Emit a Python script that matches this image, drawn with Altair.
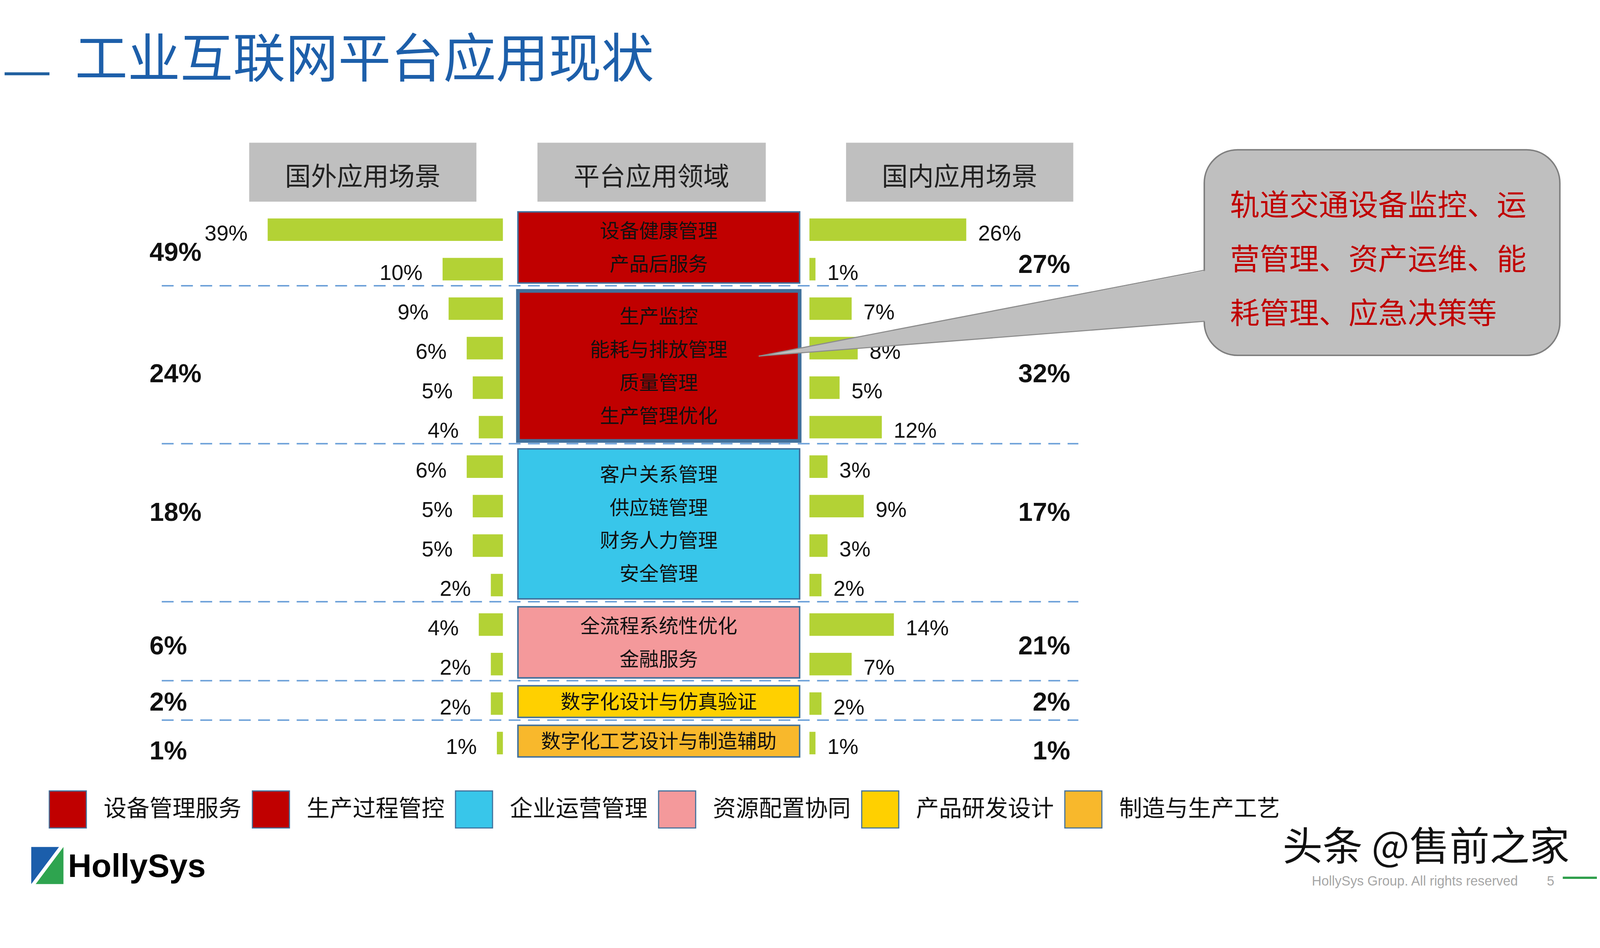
import altair as alt
import pandas as pd

# ------------------------------------------------------------------ data
title_text = "工业互联网平台应用现状"
headers = ["国外应用场景", "平台应用领域", "国内应用场景"]
foreign = [39, 10, 9, 6, 5, 4, 6, 5, 5, 2, 4, 2, 2, 1]
domestic = [26, 1, 7, 8, 5, 12, 3, 9, 3, 2, 14, 7, 2, 1]
row_group = [0, 0, 1, 1, 1, 1, 2, 2, 2, 2, 3, 3, 4, 5]
groups = ["设备管理服务", "生产过程管控", "企业运营管理", "资源配置协同", "产品研发设计", "制造与生产工艺"]
group_colors = ["#C00000", "#C00000", "#38C6EA", "#F4999B", "#FFD000", "#F8B82C"]
foreign_totals = [49, 24, 18, 6, 2, 1]
domestic_totals = [27, 32, 17, 21, 2, 1]
group_lines = [
    ["设备健康管理", "产品后服务"],
    ["生产监控", "能耗与排放管理", "质量管理", "生产管理优化"],
    ["客户关系管理", "供应链管理", "财务人力管理", "安全管理"],
    ["全流程系统性优化", "金融服务"],
    ["数字化设计与仿真验证"],
    ["数字化工艺设计与制造辅助"],
]
callout_lines = ["轨道交通设备监控、运", "营管理、资产运维、能", "耗管理、应急决策等"]

# ------------------------------------------------------------------ layout
SHIFT = 60                 # vertical compensation (px)
W, H = 4300, 2330


def py(v):
    return v - SHIFT


X0, K = 1346.6, 16.3      # left bar anchor (px) and px per percent
Y0, D = py(608.7), 106.6  # first row centre (px) and row pitch (px)
LTOT_Y = [0.59, 3.67, 7.18, 10.56, 11.98, 13.22]   # total label rows (layout)
RTOT_Y = [0.90, 3.67, 7.18, 10.56, 11.98, 13.22]
CJK = "Noto Sans CJK SC"
NUM = "Liberation Sans, Arial, sans-serif"
GREEN = "#B3D235"
BORDER = "#41719C"


def ux(px):
    return (px - X0) / K


def uy(p):
    return (py(p) - Y0) / D


R0 = ux(2175)
xs = alt.Scale(domain=[ux(0), ux(W)], nice=False, zero=False)
ys = alt.Scale(domain=[(0 - Y0) / D, (H - Y0) / D], nice=False, zero=False, reverse=True)


def X(f):
    return alt.X(f, type="quantitative", scale=xs, axis=None)


def Y(f):
    return alt.Y(f, type="quantitative", scale=ys, axis=None)


one = pd.DataFrame({"a": [0]})

# rows
rows = pd.DataFrame({"row": range(len(foreign)), "foreign": foreign,
                     "domestic": domestic, "grp": row_group})
rows["lx"] = -rows["foreign"]
rows["zero"] = 0.0
rows["rs"] = R0
rows["re"] = R0 + rows["domestic"]
rows["bt"] = rows["row"] - 0.285
rows["bb"] = rows["row"] + 0.285
rows["fl"] = rows["foreign"].astype(str) + "%"
rows["dl"] = rows["domestic"].astype(str) + "%"

# groups
g = rows.groupby("grp")["row"].agg(["min", "max"]).reset_index()
gdf = pd.DataFrame({"name": groups, "start": g["min"], "end": g["max"]})
gdf["top"] = gdf["start"] - 0.45
gdf["bot"] = gdf["end"] + 0.35
gdf["mid"] = (gdf["top"] + gdf["bot"]) / 2
gdf["sw"] = [4, 10, 4, 4, 4, 4]
gdf["ft"] = [f"{v}%" for v in foreign_totals]
gdf["dt"] = [f"{v}%" for v in domestic_totals]
gdf["fy"] = LTOT_Y
gdf["dy"] = RTOT_Y
gdf["div"] = gdf["end"] + 0.42

lines = []
for gi, ls in enumerate(group_lines):
    m = len(ls)
    for i, t in enumerate(ls):
        lines.append({"t": t, "y": gdf["mid"][gi] + 0.03 + (i - (m - 1) / 2) * 0.84})
ldf = pd.DataFrame(lines)

# ------------------------------------------------------------------ layers
hdr = pd.DataFrame({"label": headers,
                    "x1": [ux(661), ux(1440), ux(2274)],
                    "x2": [ux(1275), ux(2057), ux(2888)],
                    "xc": [ux(968), ux(1748), ux(2581)],
                    "y1": uy(374), "y2": uy(533)})
header_box = alt.Chart(hdr).mark_rect(color="#BFBFBF").encode(
    x=X("x1"), x2="x2", y=Y("y1"), y2="y2")
header_txt = alt.Chart(hdr).mark_text(font=CJK, fontSize=70, color="#222222",
                                      baseline="middle").encode(
    x=X("xc"), y=alt.value(py(468)), text="label:N")

dividers = alt.Chart(gdf[:-1]).mark_rule(color="#6A9FD8", strokeWidth=4,
                                          strokeDash=[32, 20]).encode(
    x=alt.value(424), x2=alt.value(2897), y=Y("div"))

boxes = alt.Chart(gdf).mark_rect(stroke=BORDER).encode(
    x=alt.value(1385), x2=alt.value(2145), y=Y("top"), y2="bot",
    strokeWidth=alt.StrokeWidth("sw:Q", scale=None, legend=None),
    color=alt.Color("name:N", scale=alt.Scale(domain=groups, range=group_colors),
                    legend=alt.Legend(orient="none", legendX=119, legendY=py(2122),
                                      direction="horizontal", title=None,
                                      symbolType="square", symbolSize=10000,
                                      symbolStrokeColor=BORDER, symbolStrokeWidth=3,
                                      labelFontSize=62, labelFont=CJK,
                                      labelColor="#111111", labelOffset=45,
                                      columnPadding=22, labelLimit=2000,
                                      symbolOpacity=1)))
box_txt = alt.Chart(ldf).mark_text(font=CJK, fontSize=53, color="#111111",
                                   baseline="middle").encode(
    x=alt.value(1765), y=Y("y"), text="t:N")

lbar = alt.Chart(rows).mark_rect(color=GREEN).encode(
    x=X("lx"), x2="zero", y=Y("bt"), y2="bb")
rbar = alt.Chart(rows).mark_rect(color=GREEN).encode(
    x=X("rs"), x2="re", y=Y("bt"), y2="bb")
llab = alt.Chart(rows).mark_text(font=NUM, fontSize=58, color="#111111",
                                 align="right", baseline="middle",
                                 dx=-54, dy=12).encode(
    x=X("lx"), y=Y("row"), text="fl:N")
rlab = alt.Chart(rows).mark_text(font=NUM, fontSize=58, color="#111111",
                                 align="left", baseline="middle",
                                 dx=32, dy=12).encode(
    x=X("re"), y=Y("row"), text="dl:N")

ltot = alt.Chart(gdf).mark_text(font=NUM, fontSize=70, fontWeight="bold",
                                color="#111111", align="left",
                                baseline="middle").encode(
    x=alt.value(391), y=Y("fy"), text="ft:N")
rtot = alt.Chart(gdf).mark_text(font=NUM, fontSize=70, fontWeight="bold",
                                color="#111111", align="right",
                                baseline="middle").encode(
    x=alt.value(2875), y=Y("dy"), text="dt:N")

# callout
cbox = alt.Chart(pd.DataFrame({"x1": [ux(3242)], "x2": [ux(4203)],
                               "y1": [uy(393)], "y2": [uy(948)]})).mark_rect(
    color="#BFBFBF", stroke="#7F7F7F", strokeWidth=4, cornerRadius=90).encode(
    x=X("x1"), x2="x2", y=Y("y1"), y2="y2")
ptr = alt.Chart(pd.DataFrame({"x": [ux(2038), ux(3254)],
                              "y": [uy(950), uy(718)],
                              "y2": [uy(950), uy(856)]})).mark_area(
    color="#BFBFBF", orient="vertical", opacity=1).encode(
    x=X("x"), y=Y("y"), y2="y2")
ptr_edges = alt.Chart(pd.DataFrame({"e": ["a", "a", "b", "b"],
                                    "x": [ux(2038), ux(3243), ux(2038), ux(3243)],
                                    "y": [uy(950), uy(718), uy(950), uy(856)]})
                      ).mark_line(color="#8C8C8C", strokeWidth=3).encode(
    x=X("x"), y=Y("y"), detail="e:N")
ctext = alt.Chart(pd.DataFrame({"t": callout_lines,
                                "y": [uy(547), uy(693), uy(838)]})).mark_text(
    font=CJK, fontSize=80, color="#C00000", align="left", baseline="middle").encode(
    x=alt.value(3306), y=Y("y"), text="t:N")

# title
title = alt.Chart(one).mark_text(text=title_text, font=CJK, fontSize=142,
                                 color="#1D5FAA", align="left",
                                 baseline="middle").encode(
    x=alt.value(190), y=alt.value(py(154)))
title_dash = alt.Chart(one).mark_rule(color="#1F5F9F", strokeWidth=8).encode(
    x=alt.value(0), x2=alt.value(121), y=alt.value(py(188)))

# footer / logo
logo_blue = alt.Chart(pd.DataFrame({"x": [ux(72), ux(147)], "y": [uy(2275), uy(2275)],
                                    "y2": [uy(2375), uy(2275)]})).mark_area(
    color="#1B5EAB", orient="vertical").encode(x=X("x"), y=Y("y"), y2="y2")
logo_green = alt.Chart(pd.DataFrame({"x": [ux(84), ux(159)], "y": [uy(2375), uy(2275)],
                                     "y2": [uy(2375), uy(2375)]})).mark_area(
    color="#2EA44F", orient="vertical").encode(x=X("x"), y=Y("y"), y2="y2")
logo_txt = alt.Chart(one).mark_text(text="HollySys", font="Liberation Sans",
                                    fontSize=88, fontWeight="bold", color="#000000",
                                    align="left", baseline="middle").encode(
    x=alt.value(171), y=alt.value(py(2330)))
wm = alt.Chart(one).mark_text(text="头条 @售前之家", font=CJK, fontSize=108,
                              color="#111111", align="left",
                              baseline="middle").encode(
    x=alt.value(3448), y=alt.value(py(2280)))
rights = alt.Chart(one).mark_text(text="HollySys Group. All rights reserved",
                                  font=NUM, fontSize=36, color="#A6A6A6",
                                  align="left", baseline="middle").encode(
    x=alt.value(3527), y=alt.value(py(2368)))
page_no = alt.Chart(one).mark_text(text="5", font=NUM, fontSize=36,
                                   color="#A6A6A6", align="left",
                                   baseline="middle").encode(
    x=alt.value(4161), y=alt.value(py(2368)))
green_line = alt.Chart(one).mark_rule(color="#2E9E4A", strokeWidth=6).encode(
    x=alt.value(4204), x2=alt.value(W), y=alt.value(py(2358)))

chart = alt.layer(
    header_box, header_txt, dividers, boxes, box_txt, lbar, rbar, llab, rlab,
    ltot, rtot, cbox, ptr, ptr_edges, ctext, title, title_dash,
    logo_blue, logo_green, logo_txt, wm, rights, page_no, green_line,
).properties(
    width=W, height=H, padding=0,
    autosize=alt.AutoSizeParams(type="fit", contains="padding"),
    background="#FFFFFF",
).configure_view(stroke=None)

chart.save("out.html", embed_options={"renderer": "svg", "actions": False})
